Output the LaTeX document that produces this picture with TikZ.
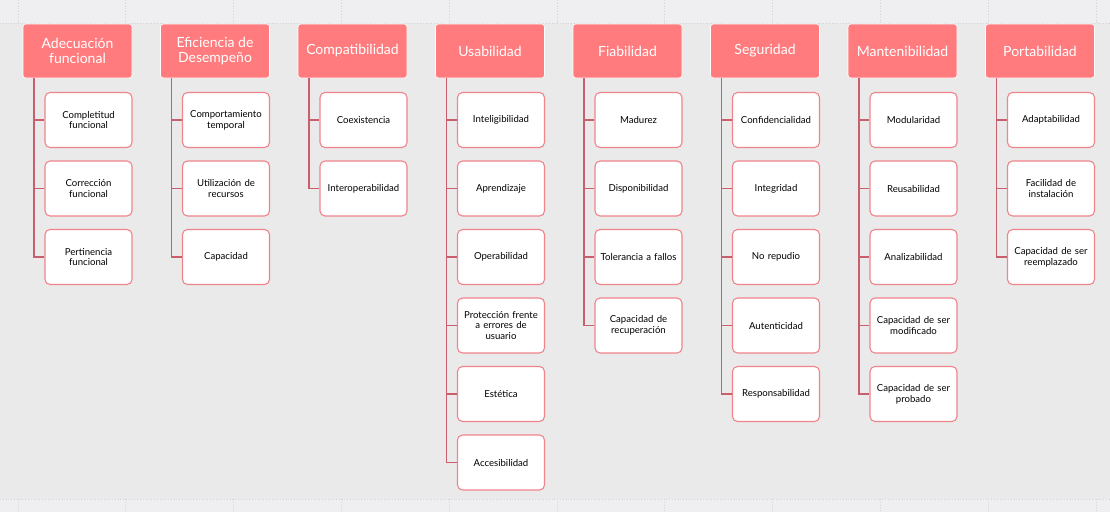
\documentclass[tikz,border=0pt]{standalone}
\usepackage{fontspec}
\setmainfont{Lato}
\definecolor{bgmain}{HTML}{EBEAEA}
\definecolor{bgband}{HTML}{EFEEF0}
\definecolor{gridc}{HTML}{DACFD8}
\definecolor{headfill}{HTML}{FF7B7E}
\definecolor{childdraw}{HTML}{F0848B}
\definecolor{connc}{HTML}{C95F6C}
\begin{document}
\begin{tikzpicture}[x=1pt,y=-1pt,
  headbox/.style={rectangle, rounded corners=3pt, fill=headfill, draw=white, line width=0.6pt,
    minimum width=109pt, minimum height=54pt, text=white, font=\fontsize{14}{15.5}\selectfont,
    align=center, inner sep=1pt},
  childbox/.style={rectangle, rounded corners=5pt, fill=white, draw=childdraw, line width=1.1pt,
    minimum width=87pt, minimum height=55pt, text=black, font=\fontsize{9.6}{10.8}\selectfont,
    align=center, inner sep=1pt, text width=85pt},
  conn/.style={draw=connc, line width=1.4pt},
  gridline/.style={draw=gridc, line width=0.8pt, dotted}]
\useasboundingbox (0,0) rectangle (1110,512);
\fill[bgmain] (0,0) rectangle (1110,512);
\fill[bgband] (0,0) rectangle (1110,23);
\fill[bgband] (0,499) rectangle (1110,512);
\draw[gridline] (0,23) -- (1110,23);
\draw[gridline] (0,499) -- (1110,499);
\foreach \k in {0,...,10} {
  \draw[gridline] (18+107.8*\k,0) -- (18+107.8*\k,23);
  \draw[gridline] (18+107.8*\k,499) -- (18+107.8*\k,512);
}
% columns
\foreach \i/\title/\kids in {
  0/{Adecuación\\funcional}/{{Completitud\\funcional},{Corrección\\funcional},{Pertinencia\\funcional}},
  1/{Eficiencia de\\Desempeño}/{{Comportamiento\\temporal},{Utilización de\\recursos},{Capacidad}},
  2/{Compatibilidad}/{{Coexistencia},{Interoperabilidad}},
  3/{Usabilidad}/{{Inteligibilidad},{Aprendizaje},{Operabilidad},{Protección frente\\a errores de\\usuario},{Estética},{Accesibilidad}},
  4/{Fiabilidad}/{{Madurez},{Disponibilidad},{Tolerancia a fallos},{Capacidad de\\recuperación}},
  5/{Seguridad}/{{Confidencialidad},{Integridad},{No repudio},{Autenticidad},{Responsabilidad}},
  6/{Mantenibilidad}/{{Modularidad},{Reusabilidad},{Analizabilidad},{Capacidad de ser\\modificado},{Capacidad de ser\\probado}},
  7/{Portabilidad}/{{Adaptabilidad},{Facilidad de\\instalación},{Capacidad de ser\\reemplazado}}} {
  \pgfmathsetmacro{\hx}{23+137.5*\i}
  \node[headbox] (h\i) at (\hx+54.5,51) {\title};
  \coordinate (top\i) at (\hx+11,78);
  \foreach \kid [count=\j from 0] in \kids {
    \node[childbox] (c\i-\j) at (\hx+65.5,120+68.5*\j) {\kid};
    \draw[conn] (top\i) |- (c\i-\j.west);
  }
}
\end{tikzpicture}
\end{document}
